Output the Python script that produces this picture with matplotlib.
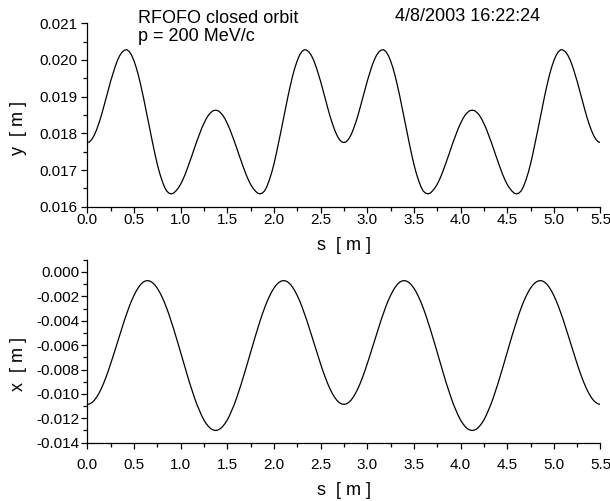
import numpy as np
import matplotlib
matplotlib.use("Agg")
import matplotlib.pyplot as plt
from matplotlib.ticker import FixedLocator, MultipleLocator, FormatStrFormatter

plt.rcParams["font.family"] = ["Liberation Sans", "DejaVu Sans"]

# orbit sampled every 0.025 m, two 2.75 m cells
s = np.linspace(0.0, 5.5, 221)

y_orbit = [
    # cell 1
    0.01775, 0.01777, 0.01784, 0.01795, 0.01810, 0.01828, 0.01848, 0.01871, 0.01894, 0.01918,
    0.01942, 0.01963, 0.01983, 0.02000, 0.02013, 0.02022, 0.02027, 0.02028, 0.02023, 0.02013,
    0.01998, 0.01979, 0.01956, 0.01929, 0.01900, 0.01869, 0.01837, 0.01805, 0.01774, 0.01744,
    0.01716, 0.01692, 0.01672, 0.01655, 0.01643, 0.01637, 0.01635, 0.01637, 0.01643, 0.01651,
    0.01661, 0.01674, 0.01689, 0.01706, 0.01724, 0.01742, 0.01761, 0.01779, 0.01796, 0.01813,
    0.01827, 0.01840, 0.01850, 0.01857, 0.01862, 0.01863,
    0.01862, 0.01857, 0.01850, 0.01840, 0.01827, 0.01813, 0.01796, 0.01779, 0.01761, 0.01742,
    0.01724, 0.01706, 0.01689, 0.01674, 0.01661, 0.01651, 0.01643, 0.01637, 0.01635, 0.01637,
    0.01643, 0.01655, 0.01672, 0.01692, 0.01716, 0.01744, 0.01774, 0.01805, 0.01837, 0.01869,
    0.01900, 0.01929, 0.01956, 0.01979, 0.01998, 0.02013, 0.02023, 0.02028, 0.02027, 0.02022,
    0.02013, 0.02000, 0.01983, 0.01963, 0.01942, 0.01918, 0.01894, 0.01871, 0.01848, 0.01828,
    0.01810, 0.01795, 0.01784, 0.01777, 0.01775,
    # cell 2
    0.01777, 0.01784, 0.01795, 0.01810, 0.01828, 0.01848, 0.01871, 0.01894, 0.01918, 0.01942,
    0.01963, 0.01983, 0.02000, 0.02013, 0.02022, 0.02027, 0.02028, 0.02023, 0.02013, 0.01998,
    0.01979, 0.01956, 0.01929, 0.01900, 0.01869, 0.01837, 0.01805, 0.01774, 0.01744, 0.01716,
    0.01692, 0.01672, 0.01655, 0.01643, 0.01637, 0.01635, 0.01637, 0.01643, 0.01651, 0.01661,
    0.01674, 0.01689, 0.01706, 0.01724, 0.01742, 0.01761, 0.01779, 0.01796, 0.01813, 0.01827,
    0.01840, 0.01850, 0.01857, 0.01862, 0.01863,
    0.01862, 0.01857, 0.01850, 0.01840, 0.01827, 0.01813, 0.01796, 0.01779, 0.01761, 0.01742,
    0.01724, 0.01706, 0.01689, 0.01674, 0.01661, 0.01651, 0.01643, 0.01637, 0.01635, 0.01637,
    0.01643, 0.01655, 0.01672, 0.01692, 0.01716, 0.01744, 0.01774, 0.01805, 0.01837, 0.01869,
    0.01900, 0.01929, 0.01956, 0.01979, 0.01998, 0.02013, 0.02023, 0.02028, 0.02027, 0.02022,
    0.02013, 0.02000, 0.01983, 0.01963, 0.01942, 0.01918, 0.01894, 0.01871, 0.01848, 0.01828,
    0.01810, 0.01795, 0.01784, 0.01777, 0.01775,
]

x_orbit = [
    # cell 1
    -0.01086, -0.01082, -0.01071, -0.01053, -0.01027, -0.00995, -0.00957, -0.00913, -0.00864, -0.00811,
    -0.00754, -0.00695, -0.00634, -0.00572, -0.00511, -0.00450, -0.00391, -0.00336, -0.00283, -0.00235,
    -0.00193, -0.00156, -0.00125, -0.00100, -0.00083, -0.00073, -0.00071, -0.00076, -0.00088, -0.00107,
    -0.00133, -0.00165, -0.00203, -0.00246, -0.00295, -0.00348, -0.00406, -0.00466, -0.00529, -0.00593,
    -0.00659, -0.00725, -0.00791, -0.00855, -0.00918, -0.00977, -0.01034, -0.01087, -0.01133, -0.01177,
    -0.01214, -0.01244, -0.01268, -0.01286, -0.01296, -0.01300,
    -0.01296, -0.01286, -0.01268, -0.01244, -0.01214, -0.01177, -0.01133, -0.01087, -0.01034, -0.00977,
    -0.00918, -0.00855, -0.00791, -0.00725, -0.00659, -0.00593, -0.00529, -0.00466, -0.00406, -0.00348,
    -0.00295, -0.00246, -0.00203, -0.00165, -0.00133, -0.00107, -0.00088, -0.00076, -0.00071, -0.00073,
    -0.00083, -0.00100, -0.00125, -0.00156, -0.00193, -0.00235, -0.00283, -0.00336, -0.00391, -0.00450,
    -0.00511, -0.00572, -0.00634, -0.00695, -0.00754, -0.00811, -0.00864, -0.00913, -0.00957, -0.00995,
    -0.01027, -0.01053, -0.01071, -0.01082, -0.01086,
    # cell 2
    -0.01082, -0.01071, -0.01053, -0.01027, -0.00995, -0.00957, -0.00913, -0.00864, -0.00811, -0.00754,
    -0.00695, -0.00634, -0.00572, -0.00511, -0.00450, -0.00391, -0.00336, -0.00283, -0.00235, -0.00193,
    -0.00156, -0.00125, -0.00100, -0.00083, -0.00073, -0.00071, -0.00076, -0.00088, -0.00107, -0.00133,
    -0.00165, -0.00203, -0.00246, -0.00295, -0.00348, -0.00406, -0.00466, -0.00529, -0.00593, -0.00659,
    -0.00725, -0.00791, -0.00855, -0.00918, -0.00977, -0.01034, -0.01087, -0.01133, -0.01177, -0.01214,
    -0.01244, -0.01268, -0.01286, -0.01296, -0.01300,
    -0.01296, -0.01286, -0.01268, -0.01244, -0.01214, -0.01177, -0.01133, -0.01087, -0.01034, -0.00977,
    -0.00918, -0.00855, -0.00791, -0.00725, -0.00659, -0.00593, -0.00529, -0.00466, -0.00406, -0.00348,
    -0.00295, -0.00246, -0.00203, -0.00165, -0.00133, -0.00107, -0.00088, -0.00076, -0.00071, -0.00073,
    -0.00083, -0.00100, -0.00125, -0.00156, -0.00193, -0.00235, -0.00283, -0.00336, -0.00391, -0.00450,
    -0.00511, -0.00572, -0.00634, -0.00695, -0.00754, -0.00811, -0.00864, -0.00913, -0.00957, -0.00995,
    -0.01027, -0.01053, -0.01071, -0.01082, -0.01086,
]

s_ticks = [0.0, 0.5, 1.0, 1.5, 2.0, 2.5, 3.0, 3.5, 4.0, 4.5, 5.0, 5.5]
y_ticks = [0.016, 0.017, 0.018, 0.019, 0.020, 0.021]
x_ticks = [-0.014, -0.012, -0.010, -0.008, -0.006, -0.004, -0.002, 0.000]

fig = plt.figure(figsize=(6.1, 5.01), dpi=100)
ax1 = fig.add_axes([0.1431, 0.5874, 0.8413, 0.3661])
ax2 = fig.add_axes([0.1431, 0.1164, 0.8413, 0.3651])


def style_axes(ax, yticks, yminor, yfmt, xpad, ypad):
    for side in ("top", "right"):
        ax.spines[side].set_visible(False)
    for side in ("left", "bottom"):
        ax.spines[side].set_linewidth(0.9)
    ax.set_xlim(0.0, 5.5)
    ax.xaxis.set_major_locator(FixedLocator(s_ticks))
    ax.xaxis.set_minor_locator(MultipleLocator(0.25))
    ax.xaxis.set_major_formatter(FormatStrFormatter("%.1f"))
    ax.yaxis.set_major_locator(FixedLocator(yticks))
    ax.yaxis.set_minor_locator(MultipleLocator(yminor))
    ax.yaxis.set_major_formatter(FormatStrFormatter(yfmt))
    ax.tick_params(which="both", direction="out", width=0.9, labelsize=11)
    ax.tick_params(which="major", length=4.5)
    ax.tick_params(which="minor", length=2.8)
    ax.tick_params(axis="x", which="major", pad=xpad)
    ax.tick_params(axis="y", which="major", pad=ypad)


ax1.plot(s, y_orbit, color="black", lw=0.9)
ax1.set_ylim(0.016, 0.021)
style_axes(ax1, y_ticks, 0.0005, "%.3f", 0.3, 2.9)
ax1.set_xlabel("s  [ m ]", fontsize=13, va="center")
ax1.xaxis.set_label_coords(0.5, -0.209)
ax1.set_ylabel("y  [ m ]", fontsize=13, va="center", ha="center", rotation_mode="default")
ax1.yaxis.set_label_coords(-0.135, 0.43)

ax2.plot(s, x_orbit, color="black", lw=0.9)
ax2.set_ylim(-0.014, 0.001)
style_axes(ax2, x_ticks, 0.001, "%.3f", 6.7, 1.0)
ax2.set_xlabel("s  [ m ]", fontsize=13, va="center")
ax2.xaxis.set_label_coords(0.5, -0.259)
ax2.set_ylabel("x  [ m ]", fontsize=13, va="center", ha="center", rotation_mode="default")
ax2.yaxis.set_label_coords(-0.135, 0.43)

fig.text(138 / 610, 1 - 23 / 501, "RFOFO closed orbit", fontsize=13, ha="left", va="baseline")
fig.text(138 / 610, 1 - 41 / 501, "p = 200 MeV/c", fontsize=13, ha="left", va="baseline")
fig.text(395 / 610, 1 - 21 / 501, "4/8/2003 16:22:24", fontsize=13, ha="left", va="baseline")

fig.savefig("out.png", dpi=100)
